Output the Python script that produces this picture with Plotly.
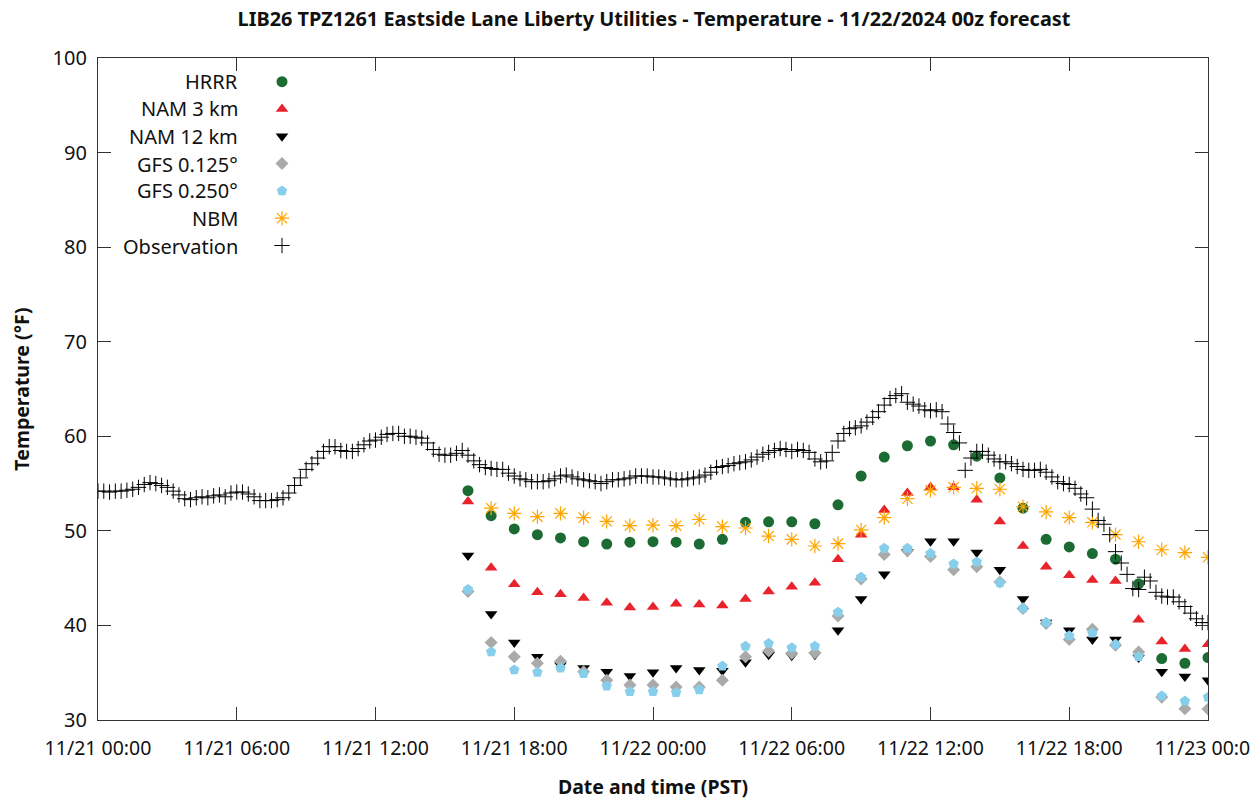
import pandas as pd
import plotly.graph_objects as go

# ---------------- data ----------------
obs_start = "2024-11-21 00:00"
obs_step = "15min"
# Observation temperatures (°F), every 15 minutes, 11/21 00:00 .. 11/23 00:00
obs_temp = [
    54.2, 54.2, 54.1, 54.2,   # 00
    54.2, 54.3, 54.4, 54.6,   # 01
    54.9, 55.1, 55.0, 54.8,   # 02
    54.6, 54.2, 53.8, 53.4,   # 03
    53.3, 53.5, 53.6, 53.5,   # 04
    53.7, 53.8, 53.6, 54.0,   # 05
    54.1, 54.1, 53.9, 53.6,   # 06
    53.2, 53.2, 53.2, 53.3,   # 07
    53.5, 54.0, 54.8, 55.6,   # 08
    56.5, 57.1, 57.7, 58.4,   # 09
    58.9, 58.9, 58.5, 58.4,   # 10
    58.4, 58.7, 59.1, 59.5,   # 11
    59.6, 59.9, 60.2, 60.3,   # 12
    60.3, 60.0, 60.0, 59.9,   # 13
    59.8, 59.3, 58.6, 58.1,   # 14
    58.0, 58.0, 58.2, 58.5,   # 15
    58.0, 57.4, 57.0, 56.7,   # 16
    56.6, 56.5, 56.5, 56.1,   # 17
    55.8, 55.5, 55.4, 55.2,   # 18
    55.2, 55.2, 55.3, 55.5,   # 19
    55.8, 55.9, 55.7, 55.5,   # 20
    55.4, 55.3, 55.2, 55.0,   # 21
    55.2, 55.4, 55.4, 55.5,   # 22
    55.6, 55.8, 55.8, 55.8,   # 23
    55.7, 55.7, 55.6, 55.5,   # 11/22 00
    55.4, 55.4, 55.5, 55.6,   # 01
    55.7, 55.9, 56.2, 56.7,   # 02
    56.8, 56.9, 57.1, 57.2,   # 03
    57.3, 57.5, 57.8, 58.1,   # 04
    58.3, 58.5, 58.7, 58.6,   # 05
    58.4, 58.6, 58.5, 58.3,   # 06
    57.6, 57.3, 57.4, 58.3,   # 07
    59.5, 60.3, 60.8, 60.9,   # 08
    61.1, 61.5, 62.0, 62.6,   # 09
    63.3, 64.0, 64.3, 64.5,   # 10
    63.6, 63.4, 63.2, 62.8,   # 11
    62.7, 62.8, 62.6, 61.3,   # 12
    60.4, 59.3, 56.4, 57.7,   # 13
    58.4, 58.4, 58.0, 57.6,   # 14
    57.3, 57.3, 57.1, 56.8,   # 15
    56.5, 56.4, 56.4, 56.5,   # 16
    56.2, 55.7, 55.2, 55.0,   # 17
    54.9, 54.5, 53.9, 53.5,   # 18
    52.3, 51.1, 50.7, 49.6,   # 19
    47.8, 46.6, 45.4, 43.9,   # 20
    43.8, 45.1, 44.7, 43.5,   # 21
    43.1, 43.0, 43.0, 42.5,   # 22
    42.0, 41.3, 40.7, 40.3,   # 23
    40.3,                     # 11/23 00
]

model_start = "2024-11-21 16:00"
nbm_start = "2024-11-21 17:00"

hrrr = [54.25, 51.6, 50.2, 49.6, 49.25, 48.85, 48.6, 48.8, 48.85, 48.8, 48.6,
        49.1, 50.9, 50.95, 50.95, 50.75, 52.75, 55.8, 57.8, 59.0, 59.5, 59.1,
        57.9, 55.6, 52.4, 49.1, 48.3, 47.6, 47.0, 44.4, 36.5, 36.0, 36.6]
nam3 = [53.1, 46.1, 44.35, 43.5, 43.3, 42.9, 42.4, 41.9, 41.95, 42.3, 42.2,
        42.1, 42.8, 43.6, 44.1, 44.5, 47.0, 49.6, 52.2, 54.0, 54.6, 54.6,
        53.3, 51.0, 48.4, 46.2, 45.3, 44.8, 44.7, 40.6, 38.3, 37.5, 38.0]
nam12 = [47.4, 41.2, 38.2, 36.7, 35.8, 35.5, 35.1, 34.65, 35.05, 35.5, 35.3,
         35.2, 36.1, 36.9, 36.8, 36.9, 39.5, 42.8, 45.4, 47.8, 48.9, 48.9,
         47.7, 45.9, 42.8, 40.3, 39.5, 38.5, 38.5, 36.6, 35.1, 34.6, 34.2]
gfs0125 = [43.6, 38.2, 36.7, 36.0, 36.2, 35.1, 34.2, 33.7, 33.7, 33.5, 33.5,
           34.2, 36.7, 37.3, 37.05, 37.1, 41.0, 44.9, 47.5, 47.9, 47.3, 45.9,
           46.2, 44.6, 41.8, 40.2, 38.5, 39.6, 37.9, 37.2, 32.4, 31.2, 31.15]
gfs0250 = [43.8, 37.2, 35.3, 35.05, 35.5, 34.9, 33.6, 33.0, 33.0, 32.9, 33.2,
           35.7, 37.8, 38.1, 37.65, 37.8, 41.4, 45.1, 48.15, 48.15, 47.6, 46.5,
           46.7, 44.5, 41.8, 40.3, 38.9, 39.2, 38.0, 36.7, 32.55, 32.0, 32.4]
nbm = [52.4, 51.85, 51.5, 51.85, 51.4, 51.0, 50.55, 50.6, 50.55, 51.2,
       50.45, 50.3, 49.45, 49.1, 48.4, 48.65, 50.1, 51.4, 53.4, 54.3, 54.6,
       54.5, 54.4, 52.55, 52.0, 51.4, 50.9, 49.6, 48.85, 48.0, 47.7, 47.2]

series_names = ["HRRR", "NAM 3 km", "NAM 12 km", "GFS 0.125°", "GFS 0.250°",
                "NBM", "Observation"]

# ---------------- figure ----------------
obs_time = pd.date_range(obs_start, periods=len(obs_temp), freq=obs_step)
model_time = pd.date_range(model_start, periods=len(hrrr), freq="1h")
nbm_time = pd.date_range(nbm_start, periods=len(nbm), freq="1h")

styles = [
    dict(symbol="circle", color="#1b6b33", size=11),
    dict(symbol="triangle-up", color="#e8232b", size=11),
    dict(symbol="triangle-down", color="#000000", size=11),
    dict(symbol="diamond", color="#aaaaaa", size=10),
    dict(symbol="pentagon", color="#87ceeb", size=11),
]

fig = go.Figure()
for name, vals, st in zip(series_names[:5], [hrrr, nam3, nam12, gfs0125, gfs0250], styles):
    fig.add_trace(go.Scatter(x=model_time, y=vals, mode="markers", name=name,
                             marker=dict(symbol=st["symbol"], color=st["color"],
                                         size=st["size"], line=dict(width=0))))
fig.add_trace(go.Scatter(x=nbm_time, y=nbm, mode="markers", name=series_names[5],
                         marker=dict(symbol="asterisk-open", size=12, color="#ffa500",
                                     line=dict(color="#ffa500", width=1.2))))
fig.add_trace(go.Scatter(x=obs_time, y=obs_temp, mode="markers", name=series_names[6],
                         marker=dict(symbol="cross-thin-open", size=11, color="#000000",
                                     line=dict(color="#000000", width=1))))

FONT = "Noto Sans"
# the page body adds an 8px offset; the plot area spans x 98..1208, y 58..720 on screen
OFF = 8
plot_top, plot_h, plot_left, plot_w = 58, 662, 98, 1110
legend_rows_px = [81, 109, 136, 164, 191, 218, 246]
for name, ypx in zip(series_names, legend_rows_px):
    fig.add_annotation(xref="paper", yref="paper",
                       x=(240 - plot_left) / plot_w,
                       y=1 - (ypx - plot_top) / plot_h,
                       xanchor="right", yanchor="middle", showarrow=False,
                       text=name, font=dict(family=FONT, size=20, color="#111111"))

fig.update_layout(
    width=1258 - OFF, height=803 - OFF,
    margin=dict(l=98 - OFF, r=50, t=58 - OFF, b=83, autoexpand=False),
    paper_bgcolor="white", plot_bgcolor="white",
    font=dict(family=FONT, size=18, color="#111111"),
    title=dict(text="<b>LIB26 TPZ1261 Eastside Lane Liberty Utilities - Temperature - 11/22/2024 00z forecast</b>",
               x=(654 - OFF) / (1258 - OFF), xanchor="center",
               y=1 - (19 - OFF) / (803 - OFF), yanchor="middle",
               font=dict(family=FONT, size=19.9, color="#111111")),
    showlegend=True,
    legend=dict(x=(262 - plot_left) / plot_w, y=1 - (63 - plot_top) / plot_h,
                xanchor="left", yanchor="top", bgcolor="rgba(0,0,0,0)",
                font=dict(size=18.7, color="rgba(0,0,0,0)"),
                itemwidth=30),
)
fig.update_xaxes(
    range=["2024-11-21 00:00", "2024-11-23 00:00"],
    dtick=6 * 3600 * 1000, tick0="2024-11-21 00:00", tickformat="%m/%d %H:%M",
    ticks="inside", ticklen=13, tickcolor="#333333", mirror="allticks",
    showline=True, linecolor="#333333", linewidth=1.2, showgrid=False, zeroline=False,
    ticklabelstandoff=10, automargin=False, ticklabeloverflow="allow",
    tickfont=dict(family=FONT, size=19.5),
    title=dict(text="<b>Date and time (PST)</b>", standoff=20,
               font=dict(family=FONT, size=19.5)),
)
fig.update_yaxes(
    range=[30, 100], dtick=10,
    ticks="inside", ticklen=13, tickcolor="#333333", mirror="allticks",
    showline=True, linecolor="#333333", linewidth=1.2, showgrid=False, zeroline=False,
    ticklabelstandoff=6, automargin=False,
    tickfont=dict(family=FONT, size=20),
    title=dict(text="<b>Temperature (°F)</b>", standoff=24,
               font=dict(family=FONT, size=19.5)),
)

fig.write_html("out.html")
